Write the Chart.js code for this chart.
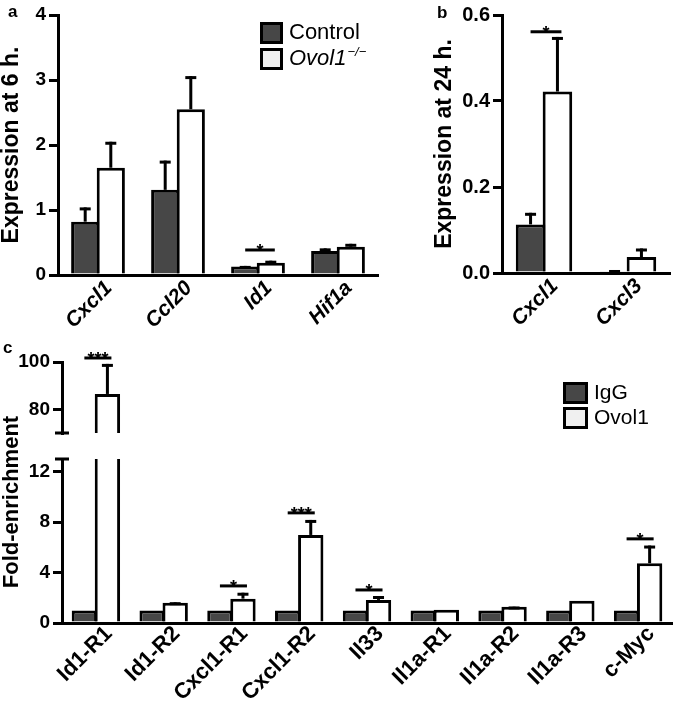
<!DOCTYPE html>
<html><head><meta charset="utf-8">
<script src="https://cdn.jsdelivr.net/npm/chart.js@4.4.0/dist/chart.umd.min.js"></script>
<style>
html,body{margin:0;padding:0;background:#fff;}
#wrap{position:relative;width:675px;height:703px;overflow:hidden;}
canvas{position:absolute;left:0;top:0;}
</style></head><body>
<div id="wrap">
<canvas id="ca" width="675" height="703"></canvas>
<canvas id="cb" width="675" height="703"></canvas>
<canvas id="cu" width="675" height="703"></canvas>
<canvas id="cl" width="675" height="703"></canvas>
</div>
<script>
// ---- Panel a data ----
const seriesA = ['Control', 'Ovol1'];
const catsA = ['Cxcl1', 'Ccl20', 'Id1', 'Hif1a'];
const controlA = [0.82, 1.31, 0.13, 0.37];
const controlAErr = [0.22, 0.45, 0.01, 0.04];
const ovolA = [1.65, 2.55, 0.19, 0.435];
const ovolAErr = [0.40, 0.51, 0.03, 0.045];
const ticksA = [0, 1, 2, 3, 4];
const sigA = [{i: 2, y: 0.385, t: '*'}];

// ---- Panel b data ----
const catsB = ['Cxcl1', 'Cxcl3'];
const controlB = [0.113, 0.004];
const controlBErr = [0.027, 0.003];
const ovolB = [0.422, 0.037];
const ovolBErr = [0.127, 0.02];
const ticksB = [0, 0.2, 0.4, 0.6];
const sigB = [{i: 0, y: 0.561, t: '*'}];

// ---- Panel c data ----
const seriesC = ['IgG', 'Ovol1'];
const catsC = ['Id1-R1', 'Id1-R2', 'Cxcl1-R1', 'Cxcl1-R2', 'Il33', 'Il1a-R1', 'Il1a-R2', 'Il1a-R3', 'c-Myc'];
const igG = [1, 1, 1, 1, 1, 1, 1, 1, 1];
const igGErr = [0, 0, 0, 0, 0, 0, 0, 0, 0];
const ovolC = [86.5, 1.6, 1.93, 6.98, 1.83, 1.05, 1.29, 1.77, 4.74];
const ovolCErr = [12.7, 0.05, 0.47, 1.19, 0.31, 0, 0.02, 0, 1.4];
const rangeCUpper = [70, 100];
const rangeCLower = [0, 13];
const ticksCUpper = [80, 100];
const ticksCLower = [0, 4, 8, 12];
const sigCUpper = [{i: 0, y: 101.7, t: '***'}];
const sigCLower = [{i: 2, y: 2.94, t: '*'}, {i: 3, y: 8.73, t: '***'}, {i: 4, y: 2.62, t: '*'}, {i: 8, y: 6.67, t: '*'}];

const FONT = "'Liberation Sans', Arial, Helvetica, sans-serif";
const DARK = '#474747';
Chart.defaults.font.family = FONT;
Chart.defaults.color = '#000';

const overlay = {
  id: 'overlay',
  afterDraw(chart, args, o) {
    const ctx = chart.ctx, ys = chart.scales.y;
    ctx.save();
    ctx.strokeStyle = '#000'; ctx.fillStyle = '#000'; ctx.lineWidth = 3;
    (o.errs || []).forEach((errs, di) => {
      const meta = chart.getDatasetMeta(di);
      const vals = chart.data.datasets[di].data;
      errs.forEach((e, j) => {
        const v = vals[j];
        if (!(e > 0) || v < ys.min || v > ys.max) return;
        const b = meta.data[j];
        const y0 = ys.getPixelForValue(v), y1 = ys.getPixelForValue(v + e);
        ctx.beginPath(); ctx.moveTo(b.x, y0); ctx.lineTo(b.x, y1); ctx.stroke();
        ctx.fillRect(b.x - 5.5, y1, 11, 3);
      });
    });
    (o.sig || []).forEach(s => {
      const c = chart.getDatasetMeta(0).data[s.i], w = chart.getDatasetMeta(1).data[s.i];
      const ly = ys.getPixelForValue(s.y);
      const x0 = c.x, x1 = w.x + 4;
      ctx.fillRect(x0, ly - 1.5, x1 - x0, 3);
      ctx.font = `bold 18px ${FONT}`; ctx.textAlign = 'center'; ctx.textBaseline = 'alphabetic';
      ctx.fillText(s.t, (x0 + x1) / 2, ly + 7);
    });
    if (o.legend) {
      const L = o.legend;
      chart.data.datasets.forEach((ds, k) => {
        const by = L.y + k * L.step;
        ctx.fillStyle = L.fills[k]; ctx.fillRect(L.x, by, L.w, L.h);
        ctx.strokeStyle = '#000'; ctx.lineWidth = 3; ctx.strokeRect(L.x + 1.5, by + 1.5, L.w - 3, L.h - 3);
        ctx.fillStyle = '#000';
        const it = (L.italic && L.italic[k]) ? 'italic ' : '';
        ctx.font = `${it}${L.size}px ${FONT}`; ctx.textAlign = 'left'; ctx.textBaseline = 'middle';
        const tx = L.x + L.w + 6;
        ctx.fillText(ds.label, tx, by + L.h / 2);
        if (L.sup && L.sup[k]) {
          const wd = ctx.measureText(ds.label).width;
          ctx.font = `${it}${Math.round(L.size * 0.6)}px ${FONT}`;
          ctx.fillText(L.sup[k], tx + wd + 1, by + L.h / 2 - L.size * 0.3);
        }
      });
    }
    (o.texts || []).forEach(t => {
      ctx.save();
      ctx.fillStyle = '#000'; ctx.font = t.font; ctx.textAlign = t.align || 'left'; ctx.textBaseline = t.base || 'alphabetic';
      ctx.translate(t.x, t.y); if (t.rot) ctx.rotate(t.rot);
      ctx.fillText(t.t, 0, 0);
      ctx.restore();
    });
    const ax = chart.chartArea.left;
    if (o.breakTop) ctx.fillRect(ax - 7, chart.chartArea.top - 1.5, 14, 3);
    if (o.breakBottom) ctx.fillRect(ax - 7, chart.chartArea.bottom - 1.5, 14, 3);
    ctx.restore();
  }
};

function barDs(label, data, fill, cp, bp) {
  return {label, data, backgroundColor: fill, borderColor: '#000', borderWidth: 3,
    borderSkipped: 'start', clip: 0, categoryPercentage: cp, barPercentage: bp};
}
function yAxis(range, tickVals, fmt, width, title, titlePad, titleSize, tickSize) {
  return {
    min: range[0], max: range[1],
    afterBuildTicks: s => { s.ticks = tickVals.map(v => ({value: v})); },
    afterFit: s => { s.width = width; },
    border: {display: true, color: '#000', width: 3},
    grid: {display: true, drawOnChartArea: false, drawTicks: true, tickLength: 9, color: '#000', lineWidth: 3},
    ticks: {color: '#000', padding: 3, font: {family: FONT, size: tickSize, weight: 'bold'}, callback: v => fmt(v)},
    title: title ? {display: true, text: title, color: '#000', padding: {top: titlePad, bottom: 0},
      font: {family: FONT, size: titleSize, weight: 'bold', lineHeight: 1}} : {display: false}
  };
}
function xAxis(h, italic, size, off, pad) {
  return {
    afterFit: s => { s.height = h; },
    border: {display: true, color: '#000', width: 3},
    grid: {display: false},
    ticks: {color: '#000', autoSkip: false, minRotation: 45, maxRotation: 45, padding: pad, labelOffset: off,
      font: {family: FONT, size: size, weight: 'bold', style: italic ? 'italic' : 'normal'}}
  };
}
const base = {responsive: false, animation: false, events: []};

// Panel a
new Chart(document.getElementById('ca'), {
  type: 'bar',
  data: {labels: catsA, datasets: [
    barDs(seriesA[0], controlA, DARK, 0.64, 1.1),
    barDs(seriesA[1], ovolA, '#ffffff', 0.64, 1.1)]},
  options: Object.assign({}, base, {
    layout: {padding: {left: 0, top: 15, right: 297, bottom: 368}},
    plugins: {legend: {display: false}, tooltip: {enabled: false},
      overlay: {errs: [controlAErr, ovolAErr], sig: sigA,
        legend: {x: 260, y: 22, w: 23, h: 22, step: 26, size: 22, fills: [DARK, '#f0f0f0'], italic: [false, true], sup: ['', '\u2212/\u2212']},
        texts: [{t: 'a', x: 8, y: 17, font: `bold 17px ${FONT}`}]}},
    scales: {x: xAxis(60, true, 21, 11, -7), y: yAxis([0, 4], ticksA, v => String(v), 58, 'Expression at 6 h.', 0.5, 23, 19)}
  }),
  plugins: [overlay]
});

// Panel b
new Chart(document.getElementById('cb'), {
  type: 'bar',
  data: {labels: catsB, datasets: [
    barDs(seriesA[0], controlB, DARK, 0.64, 1.1),
    barDs(seriesA[1], ovolB, '#ffffff', 0.64, 1.1)]},
  options: Object.assign({}, base, {
    layout: {padding: {left: 420, top: 12, right: 5, bottom: 370}},
    plugins: {legend: {display: false}, tooltip: {enabled: false},
      overlay: {errs: [controlBErr, ovolBErr], sig: sigB,
        texts: [{t: 'b', x: 437, y: 18, font: `bold 17px ${FONT}`}]}},
    scales: {x: xAxis(60, true, 21, 11, -7), y: yAxis([0, 0.6], ticksB, v => v.toFixed(1), 82, 'Expression at 24 h.', 13.5, 23, 20)}
  }),
  plugins: [overlay]
});

// Panel c upper (broken axis top segment)
new Chart(document.getElementById('cu'), {
  type: 'bar',
  data: {labels: catsC, datasets: [
    barDs(seriesC[0], igG, DARK, 0.68, 1.1),
    barDs(seriesC[1], ovolC, '#ffffff', 0.68, 1.1)]},
  options: Object.assign({}, base, {
    layout: {padding: {left: 0, top: 362, right: 3, bottom: 270}},
    plugins: {legend: {display: false}, tooltip: {enabled: false},
      overlay: {errs: [igGErr, ovolCErr], sig: sigCUpper, breakBottom: true}},
    scales: {x: {display: false}, y: yAxis(rangeCUpper, ticksCUpper, v => String(v), 62, null, 0, 0, 19)}
  }),
  plugins: [overlay]
});

// Panel c lower
new Chart(document.getElementById('cl'), {
  type: 'bar',
  data: {labels: catsC, datasets: [
    barDs(seriesC[0], igG, DARK, 0.68, 1.1),
    barDs(seriesC[1], ovolC, '#ffffff', 0.68, 1.1)]},
  options: Object.assign({}, base, {
    layout: {padding: {left: 0, top: 459, right: 3, bottom: 0}},
    plugins: {legend: {display: false}, tooltip: {enabled: false},
      overlay: {errs: [igGErr, ovolCErr], sig: sigCLower, breakTop: true,
        legend: {x: 563, y: 382, w: 25, h: 22, step: 25, size: 21, fills: [DARK, '#f0f0f0']},
        texts: [{t: 'c', x: 3, y: 353, font: `bold 17px ${FONT}`},
                {t: 'Fold-enrichment', x: 12, y: 502, rot: -Math.PI / 2, align: 'center', base: 'middle', font: `bold 22px ${FONT}`}]}},
    scales: {x: xAxis(80, false, 22, 13, -10), y: yAxis(rangeCLower, ticksCLower, v => String(v), 62, null, 0, 0, 19)}
  }),
  plugins: [overlay]
});
</script>
</body></html>
